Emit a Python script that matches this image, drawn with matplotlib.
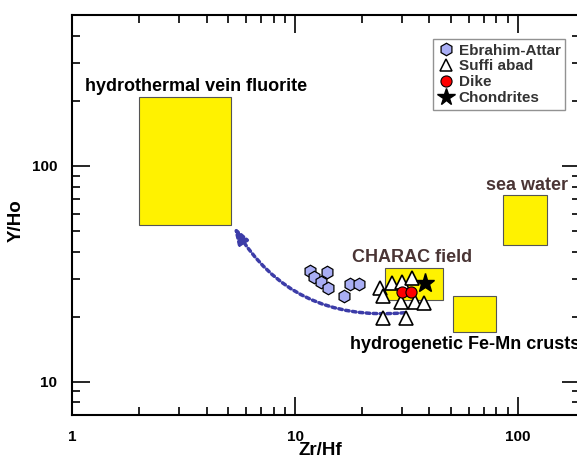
import matplotlib.pyplot as plt
from matplotlib.patches import Rectangle
from matplotlib.lines import Line2D

plt.rcParams['font.family'] = ['Liberation Sans', 'DejaVu Sans']
plt.rcParams['font.weight'] = 'bold'

# =========================
# DATA
# =========================
ebrahim_x = [11.6, 12.2, 13.1, 13.9, 14.1, 16.6, 17.7, 19.4]
ebrahim_y = [32.6, 30.6, 29.0, 32.3, 27.0, 24.8, 28.4, 28.4]

suffi_x = [24.1, 24.7, 27.3, 30.0, 33.3, 29.7, 34.4, 37.7, 24.7, 31.3]
suffi_y = [27.2, 24.8, 28.7, 29.0, 30.3, 23.4, 23.4, 23.2, 19.8, 19.8]

dike_x = [30.0, 33.0]
dike_y = [26.1, 26.1]

chondrite_x = [38.1]
chondrite_y = [28.5]

# fields: (name, x0, x1, y0, y1)
fields = [
    ("hydrothermal vein fluorite", 2.0, 5.15, 53, 208),
    ("sea water", 86, 135, 43, 73),
    ("CHARAC field", 25.2, 45.9, 24, 33.7),
    ("hydrogenetic Fe-Mn crusts", 51, 80, 16.9, 25),
]

arrow_start = (31.8, 20.9)
arrow_end = (5.2, 54)

fig = plt.figure(figsize=(5.77, 4.61), dpi=100)
ax = fig.add_axes([0.1255, 0.0998, 0.88, 0.8677])

for name, x0, x1, y0, y1 in fields:
    ax.add_patch(Rectangle((x0, y0), x1 - x0, y1 - y0, facecolor="#fff200",
                           edgecolor="#555555", linewidth=0.8, zorder=1))

ax.text(1.14, 213, "hydrothermal vein fluorite", fontsize=13, fontweight="bold",
        color="black", va="bottom")
ax.text(71.8, 74, "sea water", fontsize=13, fontweight="bold", color="#4a3535",
        va="bottom")
ax.text(17.9, 34.3, "CHARAC field", fontsize=13, fontweight="bold", color="#4a3535",
        va="bottom")
ax.text(17.7, 13.5, "hydrogenetic Fe-Mn crusts", fontsize=13, fontweight="bold",
        color="black", va="bottom", clip_on=False)

ax.annotate("", xy=arrow_end, xytext=arrow_start,
            arrowprops=dict(arrowstyle="-|>,head_length=1.0,head_width=0.33",
                            linestyle=(0, (1, 1)), linewidth=2.5,
                            color="#3c3ca8",
                            connectionstyle="arc3,rad=-0.32"), zorder=2)

ax.plot(ebrahim_x, ebrahim_y, "h", ms=9, mfc="#a9aef5", mec="black", mew=0.9,
        ls="none", zorder=3)
ax.plot(suffi_x, suffi_y, "^", ms=10, mfc="white", mec="black", mew=1.2,
        ls="none", zorder=3)
ax.plot(dike_x, dike_y, "o", ms=8, mfc="red", mec="black", mew=0.8,
        ls="none", zorder=4)
ax.plot(chondrite_x, chondrite_y, "*", ms=14, mfc="black", mec="black",
        ls="none", zorder=5)

ax.set_xscale("log")
ax.set_yscale("log")
ax.set_xlim(1, 190)
ax.set_ylim(7, 500)
ax.set_xticks([1, 10, 100])
ax.set_xticklabels(["1", "10", "100"])
ax.set_yticks([10, 100])
ax.set_yticklabels(["10", "100"])

ax.tick_params(which="both", direction="in", top=True, right=True,
               labelsize=11, width=1.2)
ax.tick_params(which="major", length=13, pad=11)
ax.tick_params(which="minor", length=6)
for sp in ax.spines.values():
    sp.set_linewidth(1.5)

ax.set_xlabel("Zr/Hf", fontsize=13.5, fontweight="bold")
ax.set_ylabel("Y/Ho", fontsize=13.5, fontweight="bold")
ax.xaxis.set_label_coords(0.488, -0.068)
ax.yaxis.set_label_coords(-0.094, 0.485)

handles = [
    Line2D([], [], marker="h", ls="none", ms=9, mfc="#a9aef5", mec="black", mew=0.9),
    Line2D([], [], marker="^", ls="none", ms=9, mfc="white", mec="black", mew=1.1),
    Line2D([], [], marker="o", ls="none", ms=8, mfc="red", mec="black", mew=0.8),
    Line2D([], [], marker="*", ls="none", ms=13, mfc="black", mec="black"),
]
labels = ["Ebrahim-Attar", "Suffi abad", "Dike", "Chondrites"]
leg = ax.legend(handles, labels, loc="upper right",
                bbox_to_anchor=(565 / 577, 1 - 39 / 461),
                bbox_transform=fig.transFigure,
                fontsize=11, frameon=True, fancybox=False, edgecolor="#777777",
                handlelength=1.0, handletextpad=0.35, borderpad=0.3,
                labelspacing=0.12, borderaxespad=0)
leg.get_frame().set_linewidth(1.0)
for t in leg.get_texts():
    t.set_color("#333333")
    t.set_fontweight("bold")

fig.savefig("out.png", dpi=100)
